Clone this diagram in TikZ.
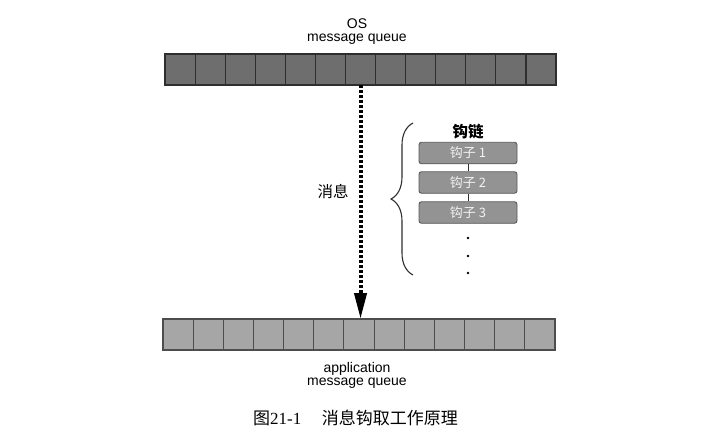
\documentclass[tikz,border=0pt]{standalone}
\usepackage{fontspec}
\setmainfont{Liberation Sans}
\newfontfamily\cjk{Noto Sans CJK SC}
\newfontfamily\capserif{Liberation Serif}
\usetikzlibrary{arrows.meta,decorations.pathreplacing}
\definecolor{topfill}{HTML}{6E6E6E}
\definecolor{botfill}{HTML}{A6A6A6}
\definecolor{hookfill}{HTML}{939393}
\definecolor{hooktext}{HTML}{F2F2F2}
\definecolor{edge}{HTML}{2E2E2E}
\tikzset{
  topcell/.style={draw=edge, fill=topfill, line width=1.1pt, minimum width=30.08pt, minimum height=31pt, inner sep=0pt, outer sep=0pt},
  botcell/.style={draw=edge!85, fill=botfill, line width=1.1pt, minimum width=30.15pt, minimum height=31pt, inner sep=0pt, outer sep=0pt},
  hookbox/.style={draw=edge!80, fill=hookfill, rounded corners=2.5pt, line width=0.9pt, minimum width=98pt, minimum height=21.5pt, inner sep=0pt, text=hooktext, font=\cjk\fontsize{13}{13}\selectfont},
  label/.style={font=\fontsize{14}{13}\selectfont, align=center, inner sep=0pt},
  dotnode/.style={circle, fill=black, inner sep=0pt, minimum size=2.6pt}
}
\begin{document}
\begin{tikzpicture}[x=1pt,y=-1pt]
\useasboundingbox (0,0) rectangle (716,445);
\fill[white] (0,0) rectangle (716,445);
% queues
\foreach \i in {0,...,12} {
  \node[topcell] (t\i) at (180.04+\i*30.08,69.5) {};
  \node[botcell] (b\i) at (178.08+\i*30.15,334.5) {};
}
% labels
\node[label] (toplab) at (357,32) {OS\\message queue};
\node[label] (botlab) at (357,375) {application\\message queue};
% message arrow
\draw[line width=4pt, dash pattern=on 3pt off 2pt, -{Triangle[width=12pt,length=26pt]}] (t6.south) -- (t6.south |- b6.north);
\node[font=\cjk\fontsize{15.5}{15}\selectfont, inner sep=0pt] (msg) at (333,192) {消息};
% hook chain
\node[font=\cjk\bfseries\fontsize{15.5}{15}\selectfont, inner sep=0pt] (chain) at (468,132) {钩链};
\node[hookbox] (h1) at (468,153) {钩子 1};
\node[hookbox] (h2) at (468,182.5) {钩子 2};
\node[hookbox] (h3) at (468,212.5) {钩子 3};
\draw[edge, line width=0.8pt] (h1.south) -- (h2.north);
\draw[edge, line width=0.8pt] (h2.south) -- (h3.north);
\node[dotnode] (d1) at (468,238) {};
\node[dotnode] (d2) at (468,256) {};
\node[dotnode] (d3) at (468,273) {};
% brace
\coordinate (bt) at (413,123);
\coordinate (bb) at (413,275);
\draw[edge, line width=1.1pt, decorate, decoration={brace, amplitude=22pt}] (bb) -- (bt);
% caption
\node[inner sep=0pt, anchor=west] (cap) at (253,418) {\fontsize{17}{17}\selectfont{\cjk 图}{\capserif 21-1}\hspace{1.2em}{\cjk 消息钩取工作原理}};
\end{tikzpicture}
\end{document}
